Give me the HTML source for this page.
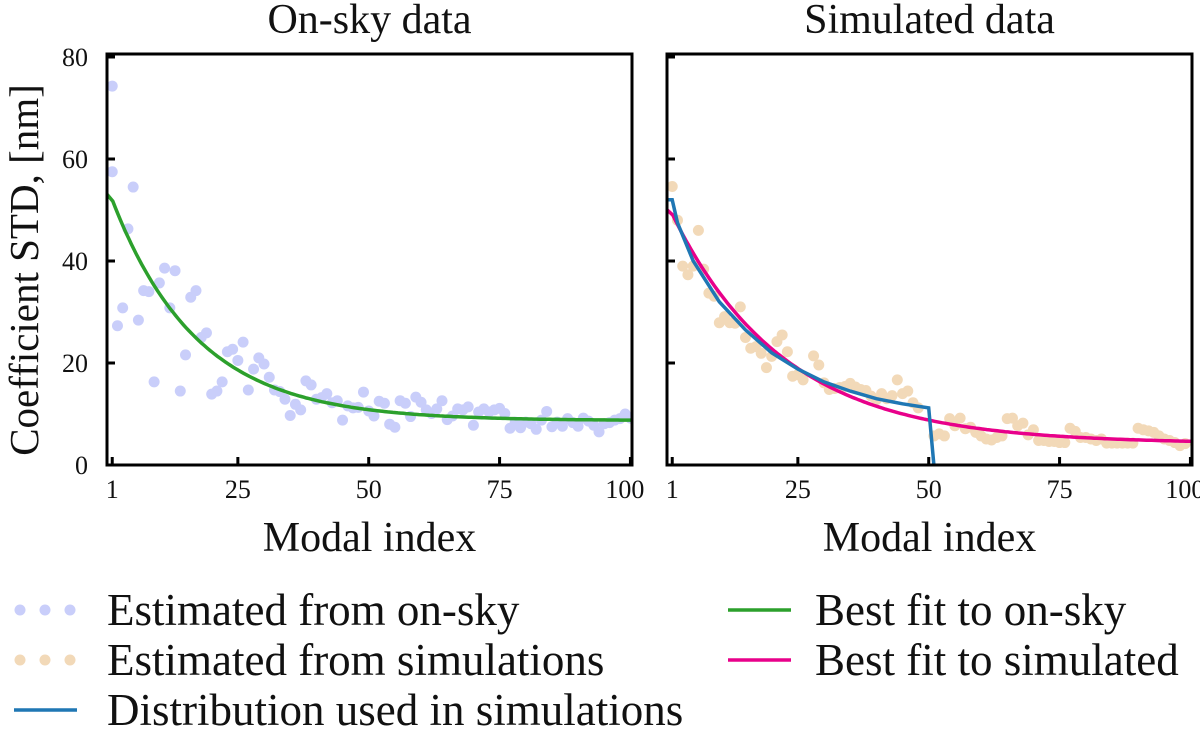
<!DOCTYPE html>
<html><head><meta charset="utf-8"><style>
html,body{margin:0;padding:0;background:#fff;}
svg{display:block;font-family:"Liberation Serif",serif;}
</style></head><body>
<svg id="chart" width="1200" height="751" viewBox="0 0 1200 751"></svg>
<script>
// Left panel (on-sky) scatter
const skyIdx = [1,1,5,2,3,4,6,7,8,9,10,11,12,13,14,15,16,17,18,19,20,21,22,23,24,25,26,27,28,29,30,31,32,33,34,35,36,37,38,39,40,41,42,43,44,45,46,47,48,49,50,51,52,53,54,55,56,57,58,59,60,61,62,63,64,65,66,67,68,69,70,71,72,73,74,75,76,77,78,79,80,81,82,83,84,85,86,87,88,89,90,91,92,93,94,95,96,97,98,99,100];
const skyVal = [74.3,57.5,54.5,27.3,30.8,46.3,28.4,34.2,34,16.3,35.7,38.6,30.8,38.1,14.5,21.6,32.9,34.2,25,25.9,13.9,14.5,16.3,22.2,22.7,20.5,24.1,14.7,18.8,21,19.8,17.2,14.7,14.4,12.9,9.7,11.9,10.8,16.5,15.7,12.9,13.2,14,12.2,12.6,8.8,11.6,11.2,11.3,14.3,10.6,9.6,12.5,12.1,8,7.4,12.6,12.1,9.5,13.3,12.3,10.8,10.1,11,12.6,8.9,9.6,11,10.8,11.4,7.8,10.4,11,10.4,10.8,11.1,10.1,7.2,8.4,7.3,8.4,8.1,7,8.8,10.5,7.5,8.4,7.6,9.1,8.3,7.6,9.2,8.6,7.8,6.5,8.1,8.3,8.8,9.1,10,9.2];
// Right panel (simulated) scatter
const simIdx = [1,2,6,3,4,5,7,8,9,10,11,12,13,14,15,16,17,18,19,20,21,22,23,24,25,26,28,29,30,31,32,33,34,35,36,37,38,39,40,41,42,43,44,45,46,47,48,51,52,53,54,55,56,57,58,59,60,61,62,63,64,65,66,67,68,69,70,71,72,73,74,75,76,77,78,79,80,81,82,83,84,85,86,87,88,89,90,91,92,93,94,95,96,97,98,99];
const simVal = [54.6,48,46,39,37.3,39,38.4,33.7,33.1,27.9,29.1,27.9,27.8,31,25,22.9,23.2,21.9,19.1,21.3,24.2,25.5,22.2,17.4,17.7,16.7,21.4,19.6,16.1,14.8,15,15.2,15.4,16,15.3,14.8,14.6,13.5,12.8,14,13,13.6,16.7,14,14.5,12.2,11.2,5.7,6.1,5.7,9.1,7.7,9.2,7.1,7.4,6.4,5.7,5.1,4.9,5.4,5.7,9.1,9.2,7.7,8.2,5.9,6.9,4.8,4.8,4.6,4.6,4.4,4.4,7.2,6.6,5.4,5.4,5.1,4.8,5.1,4.3,4.3,4.3,4.3,4.3,4.3,7.2,6.9,6.7,6.4,5.7,5.1,4.8,4.4,3.8,4.2];
// Distribution used in simulations (blue)
const distIdx = [0,1,2,5,10,15,20,25,30,35,40,45,50,51];
const distVal = [52,52,47.5,40,32,26.5,22,18.8,16.3,14.5,13,12,11.2,0];
// Fit parameters [offset, amplitude, decay]
const fitSky = [8.7,43.3,16.3];
const fitSim = [4.2,45,21.5];
const xTicks = [1,25,50,75,100];
const yTicks = [0,20,40,60,80];

const NS='http://www.w3.org/2000/svg';
const svg=document.getElementById('chart');
function mk(tag,attrs,parent){const e=document.createElementNS(NS,tag);for(const k in attrs)e.setAttribute(k,attrs[k]);(parent||svg).appendChild(e);return e;}
const plotTop=54,bottom=465,W=525;
function xs(off){return v=>off+(v/100.3)*W;}
const ys=v=>bottom-v*5.1;

function panel(off,title,name){
  const g=mk('g',{});
  
  
  const x=xs(off);
  const clip=mk('clipPath',{id:'clip'+off},g);
  mk('rect',{x:off,y:plotTop,width:W,height:bottom-plotTop},clip);
  const plot=mk('g',{'clip-path':'url(#clip'+off+')'},g);
  const t=mk('text',{x:off+W/2,y:33,'text-anchor':'middle','font-size':42,fill:'#111'},g);
  t.textContent=title;
  
  
  xTicks.forEach((v,i)=>{
    const tk=mk('line',{x1:x(v),x2:x(v),y1:bottom,y2:bottom-8,stroke:'#000','stroke-width':3},g);
    
    
    const last=i===xTicks.length-1;
    const l=mk('text',{x:last?x(v)+14:x(v),y:bottom+33,'text-anchor':last?'end':'middle','font-size':26,fill:'#111'},g);
    l.textContent=v;
    
    
  });
  yTicks.forEach(v=>{
    const tk=mk('line',{x1:off,x2:off+8,y1:ys(v),y2:ys(v),stroke:'#000','stroke-width':3},g);
    
    
  });
  const xl=mk('text',{x:off+W/2,y:551,'text-anchor':'middle','font-size':42,fill:'#111'},g);
  xl.textContent='Modal index';
  
  
  return {g,plot,x,off};
}
function scatter(p,idx,val,color,name){
  idx.forEach((v,i)=>{
    const c=mk('circle',{cx:p.x(v),cy:ys(val[i]),r:5.5,fill:color},p.plot);
    
    
  });
}
function fitPath(p,f,color,name){
  let d='';
  for(let i=0.6;i<=100.5;i+=0.5){const v=f[0]+f[1]*Math.exp(-(i-1)/f[2]);d+=(d?'L':'M')+(d?p.x(i):p.off).toFixed(1)+','+ys(v).toFixed(1);}
  const e=mk('path',{d,fill:'none',stroke:color,'stroke-width':3.5},p.plot);
  
  
}
const L=panel(107,'On-sky data','on-sky-panel');
const R=panel(667,'Simulated data','simulated-panel');
scatter(L,skyIdx,skyVal,'#c9cefa','on-sky-point');
fitPath(L,fitSky,'#2ca02c','on-sky-fit-line');
scatter(R,simIdx,simVal,'#f2d9b8','simulated-point');
fitPath(R,fitSim,'#e8008a','simulated-fit-line');
{
  const d=distIdx.map((v,i)=>(i?'L':'M')+R.x(v).toFixed(1)+','+ys(distVal[i]).toFixed(1)).join('');
  const e=mk('path',{d,fill:'none',stroke:'#1f77b4','stroke-width':3.5},R.plot);
  
  
}
[L,R].forEach(p=>{
  const fr=mk('rect',{x:p.off,y:plotTop,width:W,height:bottom-plotTop,fill:'none',stroke:'#000','stroke-width':3},p.g);
  
  
});
yTicks.forEach(v=>{
  const l=mk('text',{x:88,y:ys(v)+9,'text-anchor':'end','font-size':26,fill:'#111'});
  l.textContent=v;
  
  
});
const yt=mk('text',{x:0,y:0,transform:'translate(38,270) rotate(-90)','text-anchor':'middle','font-size':41,fill:'#111'});
yt.textContent='Coefficient STD, [nm]';



// Legend
const legend=mk('g',{});


const entries=[
  {x:20,y:610,type:'dot',color:'#c9cefa',label:'Estimated from on-sky'},
  {x:20,y:660,type:'dot',color:'#f2d9b8',label:'Estimated from simulations'},
  {x:14,y:710,type:'line',color:'#1f77b4',label:'Distribution used in simulations'},
  {x:728,y:610,type:'line',color:'#2ca02c',label:'Best fit to on-sky'},
  {x:728,y:660,type:'line',color:'#e8008a',label:'Best fit to simulated'}
];
entries.forEach(en=>{
  const g=mk('g',{},legend);
  
  
  if(en.type==='dot'){[0,25,50].forEach(o=>mk('circle',{cx:en.x+o,cy:en.y,r:5.5,fill:en.color},g));}
  else mk('line',{x1:en.x,x2:en.x+63,y1:en.y,y2:en.y,stroke:en.color,'stroke-width':3.5},g);
  const tx=(en.x<100)?107:en.x+87;
  const t=mk('text',{x:tx,y:en.y+15,'font-size':45,fill:'#111'},g);
  t.textContent=en.label;
});
</script>
</body></html>
